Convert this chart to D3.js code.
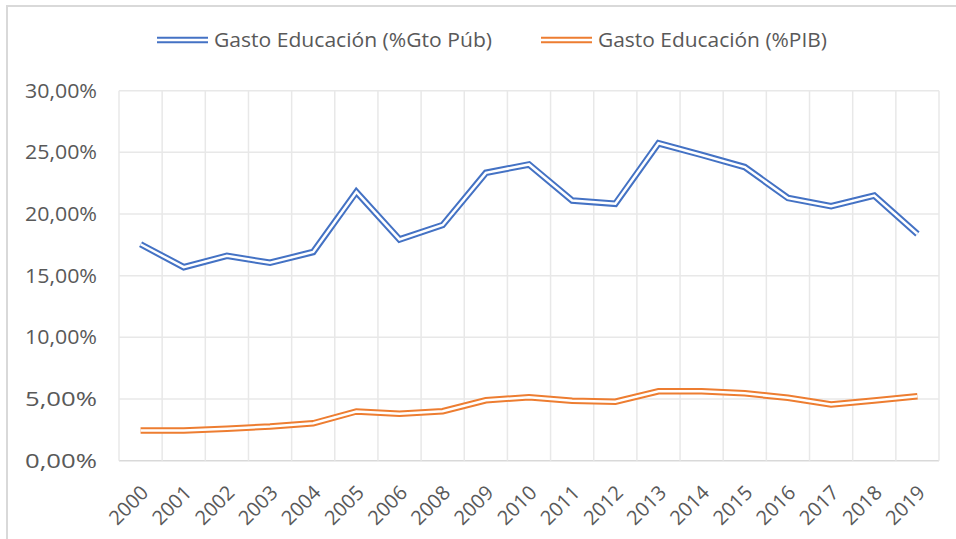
<!DOCTYPE html>
<html><head><meta charset="utf-8">
<script src="https://cdn.jsdelivr.net/npm/d3@7"></script>
<style>
body{margin:0;background:#fff;}
svg{display:block}
text{font-family:"Open Sans",sans-serif;fill:#595959}
</style>
</head><body><svg id="c" width="956" height="539"></svg>
<script>
const years = ["2000","2001","2002","2003","2004","2005","2006","2008","2009","2010","2011","2012","2013","2014","2015","2016","2017","2018","2019"];
const gastoPub = [17.55,15.69,16.61,16.05,16.92,21.79,17.94,19.11,23.34,24.02,21.10,20.83,25.74,24.79,23.81,21.30,20.64,21.50,18.38];
const gastoPIB = [2.44,2.45,2.59,2.77,3.03,3.99,3.80,4.01,4.90,5.15,4.86,4.78,5.63,5.63,5.46,5.10,4.56,4.88,5.22];
const yTicks = [0,5,10,15,20,25,30];
const seriesNames = ["Gasto Educación (%Gto Púb)","Gasto Educación (%PIB)"];
const colors = ["#4472C4","#ED7D31"];

const svg = d3.select("#c");
const L = 119, R = 939, T = 90.7, B = 460.7;

// outer frame (top & left visible)
svg.append("line").attr("x1",6).attr("x2",956).attr("y1",6).attr("y2",6).attr("stroke","#d9d9d9").attr("stroke-width",2);
svg.append("line").attr("x1",7).attr("x2",7).attr("y1",6).attr("y2",539).attr("stroke","#d9d9d9").attr("stroke-width",2);

const x = d3.scaleBand().domain(years).range([L,R]).padding(0);
const y = d3.scaleLinear().domain([0,30]).range([B,T]);
const cx = d => x(d) + x.bandwidth()/2;

// horizontal gridlines
svg.append("g").selectAll("line").data(yTicks).join("line")
  .attr("x1",L).attr("x2",R).attr("y1",d=>y(d)).attr("y2",d=>y(d))
  .attr("stroke",d=>d===0?"#d9d9d9":"#e8e8e8").attr("stroke-width",1.5);
// vertical gridlines at category boundaries
const bounds = years.map(d=>x(d)).concat([R]);
svg.append("g").selectAll("line").data(bounds).join("line")
  .attr("x1",d=>d).attr("x2",d=>d).attr("y1",T).attr("y2",B)
  .attr("stroke","#e8e8e8").attr("stroke-width",1.5);

// y labels
svg.append("g").selectAll("text").data(yTicks).join("text")
  .attr("x",97).attr("y",d=>y(d)).attr("dy","0.35em").attr("text-anchor","end")
  .attr("font-size",19.5).attr("textLength",72).attr("lengthAdjust","spacingAndGlyphs")
  .text(d=>d3.format(".2f")(d).replace(".",",")+"%");

// x labels
svg.append("g").selectAll("text").data(years).join("text")
  .attr("text-anchor","end")
  .attr("font-size",20)
  .attr("transform",d=>`translate(${cx(d)+9},${494}) rotate(-45)`)
  .text(d=>d);

// lines
const line = d3.line().x((d,i)=>cx(years[i])).y(d=>y(d));
[gastoPub,gastoPIB].forEach((s,k)=>{
  svg.append("path").attr("d",line(s)).attr("fill","none").attr("stroke",colors[k]).attr("stroke-width",6.5).attr("stroke-linejoin","miter");
  svg.append("path").attr("d",line(s)).attr("fill","none").attr("stroke","#fff").attr("stroke-width",2.5).attr("stroke-linejoin","miter");
});

// legend
const legX = [157,541];
const legW = [278,229];
seriesNames.forEach((n,k)=>{
  const g = svg.append("g").attr("transform",`translate(${legX[k]},40)`);
  g.append("line").attr("x1",0).attr("x2",51).attr("stroke",colors[k]).attr("stroke-width",6.5);
  g.append("line").attr("x1",0).attr("x2",51).attr("stroke","#fff").attr("stroke-width",2.5);
  g.append("text").attr("x",57).attr("y",0).attr("dy","0.36em").attr("font-size",20)
    .attr("textLength",legW[k]).attr("lengthAdjust","spacingAndGlyphs").text(n);
});
</script>
</body></html>
